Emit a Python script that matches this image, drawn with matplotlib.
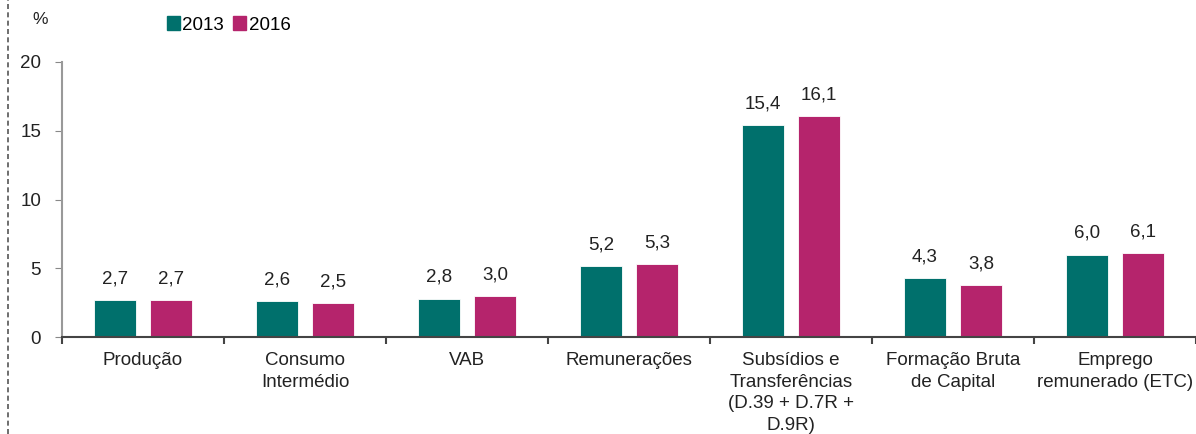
import numpy as np
import matplotlib.pyplot as plt
from matplotlib.lines import Line2D

plt.rcParams['font.family'] = ['Liberation Sans', 'DejaVu Sans']

categorias = ['Produção', 'Consumo\nIntermédio', 'VAB', 'Remunerações',
              'Subsídios e\nTransferências\n(D.39 + D.7R +\nD.9R)',
              'Formação Bruta\nde Capital', 'Emprego\nremunerado (ETC)']
v2013 = [2.7, 2.6, 2.8, 5.2, 15.4, 4.3, 6.0]
v2016 = [2.7, 2.5, 3.0, 5.3, 16.1, 3.8, 6.1]
anos = ['2013', '2016']
cores = ['#00706c', '#b5246c']

fig = plt.figure(figsize=(11.96, 4.34), dpi=100)
ax = fig.add_axes([62 / 1196, 1 - 337 / 434, 1 - 62 / 1196, (337 - 62) / 434])

x = np.arange(len(categorias))
off = 0.173
w = 0.26
for vals, cor, d in [(v2013, cores[0], -off), (v2016, cores[1], off)]:
    bars = ax.bar(x + d, vals, w, color=cor, edgecolor='white', linewidth=0.6)
    for b, v in zip(bars, vals):
        ax.annotate(f'{v:.1f}'.replace('.', ','), (b.get_x() + b.get_width() / 2, v),
                    xytext=(0, 9), textcoords='offset points', ha='center', va='bottom',
                    fontsize=13.5, color='#222222')

ax.set_xlim(-0.5, len(categorias) - 0.5)
ax.set_ylim(0, 20)
ax.set_yticks([0, 5, 10, 15, 20])
ax.tick_params(axis='y', labelsize=13.5, length=5, color='#888888', pad=10, labelcolor='#222222')
ax.set_xticks(x)
ax.set_xticklabels(categorias, fontsize=13.5, color='#222222', linespacing=1.35)
ax.tick_params(axis='x', length=0, pad=11)
ax.set_xticks(np.arange(len(categorias) + 1) - 0.5, minor=True)
ax.tick_params(axis='x', which='minor', length=5, width=1.5, color='#444444')
for s in ['top', 'right']:
    ax.spines[s].set_visible(False)
ax.spines['left'].set_color('#999999')
ax.spines['left'].set_linewidth(1.5)
ax.spines['bottom'].set_color('#444444')
ax.spines['bottom'].set_linewidth(1.5)

fig.text(32 / 1196, 1 - 20 / 434, '%', fontsize=12.5, color='#222222', va='center')
handles = [plt.Rectangle((0, 0), 1, 1, color=c) for c in cores]
fig.legend(handles, anos, loc='center left', bbox_to_anchor=(159 / 1196, 1 - 25 / 434),
           ncol=2, frameon=False, fontsize=13.5, handlelength=0.7, handleheight=0.7,
           handletextpad=0.15, columnspacing=0.45, borderaxespad=0)

fig.add_artist(Line2D([8 / 1196, 8 / 1196], [0, 1], transform=fig.transFigure,
                      color='#555555', linestyle=(0, (3, 2)), linewidth=1.2))

fig.savefig('out.png', dpi=100)
